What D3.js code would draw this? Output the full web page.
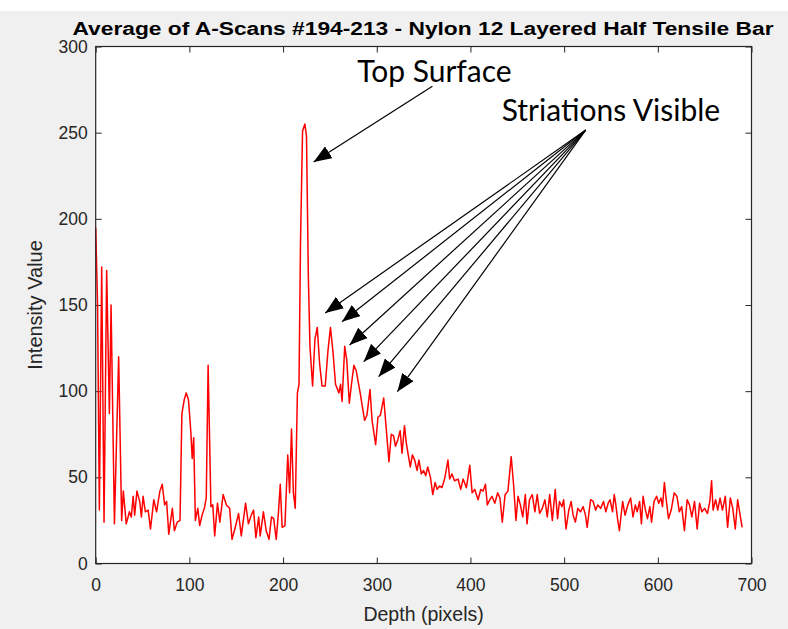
<!DOCTYPE html>
<html><head><meta charset="utf-8">
<script src="https://cdn.jsdelivr.net/npm/d3@7"></script>
<style>
html,body{margin:0;padding:0;background:#f0f0f0;}
svg{display:block;}
</style></head>
<body>
<svg id="chart" width="788" height="629"></svg>
<script>
// ---- data ----
const title = "Average of A-Scans #194-213 - Nylon 12 Layered Half Tensile Bar";
const xLabel = "Depth (pixels)";
const yLabel = "Intensity Value";
const xTicks = [0,100,200,300,400,500,600,700];
const yTicks = [0,50,100,150,200,250,300];

const depth = [
0,2,3.9,6.4,8.9,11.7,14.6,16.4,20,24.5,27.7,29.5,32.6,36,38,40,41.6,44,47,48.8,50.6,53,56,58.5,62,65,68.5,71,73.6,75.7,78,81.8,84,87,90,
92,94.5,96.6,99,101.6,103,104.6,106.4,109,111,113.5,116,118,120,123,125,127,130,132.5,136,139.5,143,145.5,149,152.5,155.4,160,163,166,168.5,171,174,175.6,179,182,185,187.6,190,192.7,195,197,199,202,205,207,209,211,213,215.3,217,218.6,220.8,223.3,225,227,228.7,231.5,234,236.5,239,241.6,245,248,250.6,253.4,256,259.6,261.4,263,265.8,268,270.7,273,275.6,278,282.3,287,289.5,292.8,295,298.8,301.3,303.8,307.4,310,313,315.5,318,320,322.6,325,327,329.6,331.5,333.6,335.8,338,340.5,343,345,347.6,350,352.3,354.4,357.3,359.8,362.3,364.4,367,369.5,372.4,376,377.8,380.3,383,386.8,389.6,392.2,395.7,399.3,401.8,404.6,408.2,411,413.5,416,418,420.6,423,426,429,431.5,434,437,440,443.5,446,448.6,450.8,453.3,455.8,458.6,460.4,463,466,468.8,471.3,473.8,476.7,479.5,482,484.6,487.4,490.5,493,495,497.7,499.5,502,505,507.5,509.6,512,514.6,517.5,520.3,522.8,524.6,528.2,531,533.6,536,539,542,544.5,547,549,551.7,553.5,555.2,557,559,560.8,562.5,565,568,571,573.5,576,578,580.6,582.5,584.3,586.8,589,591.5,593.3,596,598.7,601,603.4,605,607,609,611.4,614.3,617.5,620.4,623,625.5,628.4,631.3,633.8,636.3,639.2,642,644.6,647,650,653,655.5,657.4,659,661.7,664,666.4,669,672,674.5,677.4,680,682.7,685.2,687,690];

const intensity = [
195,150,31,172,24,170,87,150,23,120,25,42,23,30,27,39,28,42,36,27,39,30,31,20,37,30,42,46,34,36,17,32,19,24,25,
87,95,99,95,76,61,73,25,32,22,28,32,38,115,33,34,16,35,24,40,34,32,14,21,29,16,35,23,28,31,15,27,16,30,19,14,27,26,14,29,46,21,22,63,41,78,41,32,99,104,186,251,255,248,166,126,103,130,137,116,103,103,124,137,122,104,99,104,94,126,118,93,104,115,112,99,83,86,101,83,69,85,86,96,79,59,75,74,68,72,77,64,80,70,63,56,63,60,54,60,52,54,51,56,50,40,47,43,45,44,49,60,49,52,48,49,43,49,44,57,41,43,37,43,42,46,34,37,39,35,41,38,24,40,42,62,46,25,39,34,27,40,23,37,40,30,40,29,32,37,27,40,25,43,26,36,33,37,20,31,36,28,24,32,30,33,28,21,37,36,31,34,32,36,30,35,37,30,40,34,26,19,28,36,28,34,38,27,34,30,36,23,39,31,26,33,24,36,39,35,38,33,47,37,26,31,41,39,30,33,19,37,34,27,36,20,35,30,32,29,36,48,31,37,31,38,31,39,21,38,32,20,37,31,21];

// annotations, in data coordinates
const topLabel = {text:"Top Surface", x:361.5, y:279.5, fromX:359.4, fromY:277, toX:232.6, toY:233};
const striLabel = {text:"Striations Visible", x:550, y:257, fromX:523, fromY:251.5};
const striTipsX = [245,262.9,271,286,302,322];
const striTipsY = [145.4,140.3,126.8,117.1,108.4,99.7];

// ---- drawing ----
const svg = d3.select("#chart");
svg.append("rect").attr("x",0).attr("y",0).attr("width",788).attr("height",11).attr("fill","#ffffff");

const x = d3.scaleLinear().domain([0,700]).range([95.7,751.5]);
const y = d3.scaleLinear().domain([0,300]).range([563.5,46.5]);
const axisColor = "#262626";
const font = "Liberation Sans, Arial, sans-serif";

svg.append("rect").attr("x",x(0)).attr("y",y(300)).attr("width",x(700)-x(0)).attr("height",y(0)-y(300)).attr("fill","#ffffff");

function styleAxis(g, showText){
  g.select(".domain").remove();
  g.selectAll(".tick line").attr("stroke",axisColor);
  g.selectAll(".tick text").attr("fill",axisColor).attr("font-family",font).attr("font-size","17.5px")
    .attr("opacity", showText?1:0);
}
const gx = svg.append("g").attr("transform",`translate(0,${y(0)})`)
  .call(d3.axisBottom(x).tickValues(xTicks).tickSize(-6).tickPadding(15).tickFormat(d3.format("d")));
styleAxis(gx,true);
const gxt = svg.append("g").attr("transform",`translate(0,${y(300)})`)
  .call(d3.axisTop(x).tickValues(xTicks).tickSize(-6).tickFormat(""));
styleAxis(gxt,false);
const gy = svg.append("g").attr("transform",`translate(${x(0)},0)`)
  .call(d3.axisLeft(y).tickValues(yTicks).tickSize(-6).tickPadding(8).tickFormat(d3.format("d")));
styleAxis(gy,true);
const gyr = svg.append("g").attr("transform",`translate(${x(700)},0)`)
  .call(d3.axisRight(y).tickValues(yTicks).tickSize(-6).tickFormat(""));
styleAxis(gyr,false);

// the data line
const pts = depth.map((d,i)=>[d,intensity[i]]);
svg.append("path").datum(pts)
  .attr("fill","none").attr("stroke","#ff0000").attr("stroke-width",1.5).attr("stroke-linejoin","round")
  .attr("d", d3.line().x(d=>x(d[0])).y(d=>y(d[1])));

// box
svg.append("rect").attr("x",x(0)).attr("y",y(300)).attr("width",x(700)-x(0)).attr("height",y(0)-y(300))
  .attr("fill","none").attr("stroke",axisColor).attr("stroke-width",1.2);

// labels
svg.append("text").attr("x",423).attr("y",35).attr("text-anchor","middle")
  .attr("font-family",font).attr("font-weight","bold").attr("font-size","17.5px")
  .attr("textLength",701).attr("lengthAdjust","spacingAndGlyphs").attr("fill","#000").text(title);
svg.append("text").attr("x",(x(0)+x(700))/2).attr("y",621).attr("text-anchor","middle")
  .attr("font-family",font).attr("font-size","19.5px").attr("fill",axisColor).text(xLabel);
svg.append("text").attr("transform",`translate(42,${(y(0)+y(300))/2}) rotate(-90)`).attr("text-anchor","middle")
  .attr("font-family",font).attr("font-size","20px").attr("fill",axisColor).text(yLabel);

// arrows
const defs = svg.append("defs");
defs.append("marker").attr("id","ah").attr("viewBox","0 0 18 14").attr("refX",18).attr("refY",7)
  .attr("markerWidth",18).attr("markerHeight",14).attr("markerUnits","userSpaceOnUse").attr("orient","auto")
  .append("path").attr("d","M0,0 L18,7 L0,14 Z").attr("fill","#000");

function arrow(x1,y1,x2,y2){
  svg.append("line").attr("x1",x(x1)).attr("y1",y(y1)).attr("x2",x(x2)).attr("y2",y(y2))
    .attr("stroke","#000").attr("stroke-width",1.2).attr("marker-end","url(#ah)");
}
arrow(topLabel.fromX,topLabel.fromY,topLabel.toX,topLabel.toY);
striTipsX.forEach((tx,i)=>arrow(striLabel.fromX,striLabel.fromY,tx,striTipsY[i]));

svg.append("text").attr("x",x(topLabel.x)).attr("y",y(topLabel.y)).attr("text-anchor","middle")
  .attr("font-family","Lato, Carlito, sans-serif").attr("font-size","30px").attr("fill","#000").text(topLabel.text);
svg.append("text").attr("x",x(striLabel.x)).attr("y",y(striLabel.y)).attr("text-anchor","middle")
  .attr("font-family","Lato, Carlito, sans-serif").attr("font-size","30px").attr("fill","#000").text(striLabel.text);
</script>
</body></html>
